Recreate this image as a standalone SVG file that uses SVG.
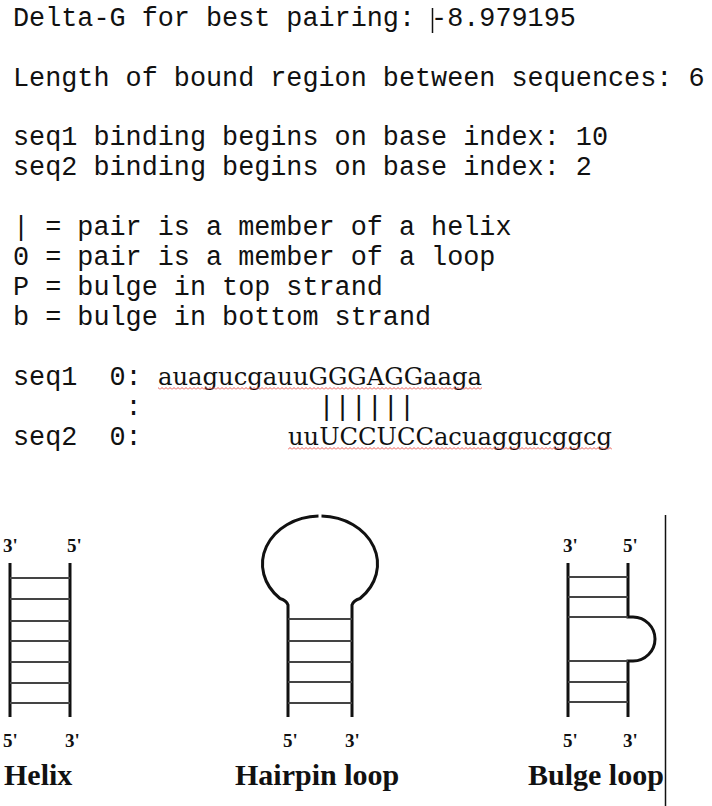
<svg xmlns="http://www.w3.org/2000/svg" width="712" height="806" viewBox="0 0 712 806">
  <style>
    .mono { font-family: "Liberation Mono", "Courier New", monospace; font-size: 26.8px; fill: #111; }
    .seq { font-family: "DejaVu Serif", "Liberation Serif", serif; font-size: 25px; fill: #111; }
    .strand { fill: none; stroke: #111; stroke-width: 3; }
    .rung { stroke: #444; stroke-width: 2; }
    .end { font-family: "Liberation Serif", "Times New Roman", serif; font-weight: bold; font-size: 19px; fill: #111; }
    .title { font-family: "Liberation Serif", "Times New Roman", serif; font-weight: bold; font-size: 30px; fill: #111; }
  </style>
  <defs>
    <!-- red zigzag used for the spell-check underline -->
    <pattern id="squiggle" x="0" y="0" width="4" height="3" patternUnits="userSpaceOnUse">
      <path d="M0 2.5 L2 0.5 L4 2.5" fill="none" stroke="#e8443c" stroke-width="0.9"/>
    </pattern>
  </defs>
  <rect width="712" height="806" fill="#ffffff"/>

  <!-- program output: summary lines -->
  <g id="summary">
    <text class="mono" x="13" y="26" xml:space="preserve">Delta-G for best pairing: -8.979195</text>
    <line x1="432.5" y1="8" x2="432.5" y2="33" stroke="#111" stroke-width="1.5"/>
    <text class="mono" x="13" y="86" xml:space="preserve">Length of bound region between sequences: 6</text>
    <text class="mono" x="13" y="145" xml:space="preserve">seq1 binding begins on base index: 10</text>
    <text class="mono" x="13" y="175" xml:space="preserve">seq2 binding begins on base index: 2</text>
  </g>

  <!-- legend of pairing symbols -->
  <g id="legend">
    <text class="mono" x="13" y="235" xml:space="preserve">| = pair is a member of a helix</text>
    <text class="mono" x="13" y="265" xml:space="preserve">0 = pair is a member of a loop</text>
    <text class="mono" x="13" y="295" xml:space="preserve">P = bulge in top strand</text>
    <text class="mono" x="13" y="325" xml:space="preserve">b = bulge in bottom strand</text>
  </g>

  <!-- alignment of the two sequences -->
  <g id="alignment">
    <text class="mono" x="13" y="385" xml:space="preserve">seq1  0:</text>
    <text class="seq" x="158" y="385" textLength="324" lengthAdjust="spacingAndGlyphs">auagucgauuGGGAGGaaga</text>
    <rect x="158" y="387" width="324" height="3" fill="url(#squiggle)"/>
    <text class="mono" x="13" y="415" xml:space="preserve">       :           ||||||</text>
    <text class="mono" x="13" y="445" xml:space="preserve">seq2  0:</text>
    <text class="seq" x="288" y="445" textLength="324" lengthAdjust="spacingAndGlyphs">uuUCCUCCacuaggucggcg</text>
    <rect x="288" y="447" width="324" height="3" fill="url(#squiggle)"/>
  </g>

  <!-- helix: two strands joined by base-pair rungs -->
  <g id="helix">
    <line class="strand" x1="10" y1="563" x2="10" y2="717"/>
    <line class="strand" x1="70" y1="563" x2="70" y2="717"/>
    <line class="rung" x1="10" y1="578" x2="70" y2="578"/>
    <line class="rung" x1="10" y1="599" x2="70" y2="599"/>
    <line class="rung" x1="10" y1="621" x2="70" y2="621"/>
    <line class="rung" x1="10" y1="641" x2="70" y2="641"/>
    <line class="rung" x1="10" y1="662" x2="70" y2="662"/>
    <line class="rung" x1="10" y1="683" x2="70" y2="683"/>
    <line class="rung" x1="10" y1="703" x2="70" y2="703"/>
    <text class="end" x="3" y="552">3'</text>
    <text class="end" x="67" y="552">5'</text>
    <text class="end" x="3" y="747">5'</text>
    <text class="end" x="65" y="747">3'</text>
    <text class="title" x="4" y="785">Helix</text>
  </g>

  <!-- hairpin loop: stem closed by a single-stranded loop -->
  <g id="hairpin">
    <path class="strand" d="M288 717 V605 Q286.5 600.5 280 598.5 A57.5 48 0 0 1 318.5 516"/>
    <path class="strand" d="M352 717 V605 Q353.5 600.5 360 598.5 A57.5 48 0 0 0 321.5 516"/>
    <line class="rung" x1="288" y1="619" x2="352" y2="619"/>
    <line class="rung" x1="288" y1="641" x2="352" y2="641"/>
    <line class="rung" x1="288" y1="662" x2="352" y2="662"/>
    <line class="rung" x1="288" y1="682" x2="352" y2="682"/>
    <line class="rung" x1="288" y1="703" x2="352" y2="703"/>
    <text class="end" x="283" y="747">5'</text>
    <text class="end" x="345" y="747">3'</text>
    <text class="title" x="235" y="785">Hairpin loop</text>
  </g>

  <!-- bulge loop: extra unpaired bases on one strand -->
  <g id="bulge">
    <line class="strand" x1="568" y1="563" x2="568" y2="717"/>
    <path class="strand" d="M628 563 V617 H633 A22 22 0 0 1 633 661 H628 V717"/>
    <line class="rung" x1="568" y1="577" x2="628" y2="577"/>
    <line class="rung" x1="568" y1="597" x2="628" y2="597"/>
    <line class="rung" x1="568" y1="617" x2="628" y2="617"/>
    <line class="rung" x1="568" y1="661" x2="628" y2="661"/>
    <line class="rung" x1="568" y1="682" x2="628" y2="682"/>
    <line class="rung" x1="568" y1="702" x2="628" y2="702"/>
    <text class="end" x="563" y="552">3'</text>
    <text class="end" x="623" y="552">5'</text>
    <text class="end" x="563" y="747">5'</text>
    <text class="end" x="623" y="747">3'</text>
    <text class="title" x="528" y="785">Bulge loop</text>
  </g>

  <!-- right edge of the figure panel -->
  <line x1="665.5" y1="515" x2="665.5" y2="806" stroke="#111" stroke-width="1.5"/>
</svg>
